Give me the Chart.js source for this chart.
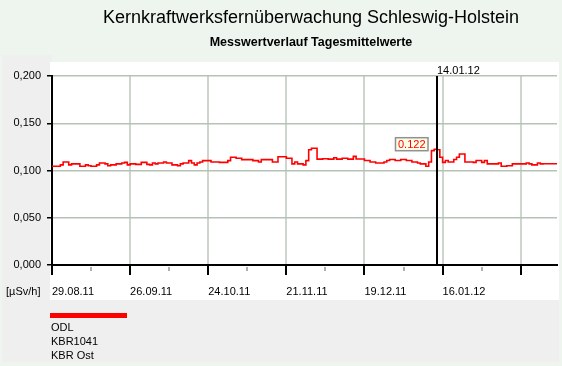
<!DOCTYPE html>
<html>
<head>
<meta charset="utf-8">
<script src="https://cdn.jsdelivr.net/npm/chart.js@4.4.1/dist/chart.umd.min.js"></script>
<style>
  html, body { margin: 0; padding: 0; background: #eef5ee; }
  #wrap { width: 562px; height: 366px; }
</style>
</head>
<body>
<div id="wrap"><canvas id="odlChart" width="562" height="366"></canvas></div>
<script>
const titleText = 'Kernkraftwerksfernüberwachung Schleswig-Holstein';
const subtitleText = 'Messwertverlauf Tagesmittelwerte';
const unitLabel = '[µSv/h]';
const legendLines = ['ODL', 'KBR1041', 'KBR Ost'];
const tickLabels = ['29.08.11', '26.09.11', '24.10.11', '21.11.11', '19.12.11', '16.01.12'];
const daysPerLabel = 28;
const lastDay = 181;
const markerDay = 138;
const markerLabel = '14.01.12';

// daily means from 29.08.11, one per day
const odlValues = [
  0.1045, 0.1045, 0.1045, 0.106, 0.109, 0.109, 0.106, 0.107, 0.107, 0.107,
  0.1045, 0.1045, 0.106, 0.105, 0.1045, 0.1045, 0.106, 0.108, 0.108, 0.107,
  0.105, 0.106, 0.106, 0.107, 0.107, 0.108, 0.1086, 0.106, 0.107, 0.107,
  0.1065, 0.1065, 0.1086, 0.1086, 0.1065, 0.106, 0.108, 0.107, 0.108, 0.108,
  0.109, 0.108, 0.108, 0.106, 0.106, 0.105, 0.107, 0.108, 0.108, 0.1105,
  0.108, 0.106, 0.108, 0.109, 0.1105, 0.1105, 0.1105, 0.109, 0.109, 0.109,
  0.1086, 0.1086, 0.1086, 0.1105, 0.114, 0.114, 0.113, 0.113, 0.1115, 0.1115,
  0.1115, 0.1115, 0.1105, 0.1105, 0.109, 0.1115, 0.1115, 0.1115, 0.1115, 0.109,
  0.109, 0.1145, 0.1145, 0.1145, 0.113, 0.113, 0.107, 0.109, 0.107, 0.107,
  0.106, 0.1105, 0.122, 0.1235, 0.1235, 0.112, 0.112, 0.1125, 0.1125, 0.112,
  0.112, 0.1135, 0.112, 0.112, 0.113, 0.113, 0.112, 0.112, 0.115, 0.1122,
  0.1122, 0.1122, 0.1106, 0.1106, 0.109, 0.109, 0.108, 0.108, 0.108, 0.109,
  0.1106, 0.1116, 0.1116, 0.1106, 0.1106, 0.1116, 0.1116, 0.1106, 0.1106, 0.109,
  0.109, 0.108, 0.107, 0.107, 0.1045, 0.109, 0.121, 0.1225, 0.122, 0.114,
  0.1086, 0.1106, 0.109, 0.109, 0.1116, 0.114, 0.1175, 0.1175, 0.109, 0.109,
  0.109, 0.1086, 0.1106, 0.1106, 0.1086, 0.1106, 0.107, 0.107, 0.107, 0.107,
  0.108, 0.1045, 0.1045, 0.105, 0.105, 0.107, 0.107, 0.107, 0.107, 0.107,
  0.108, 0.107, 0.106, 0.106, 0.108, 0.107, 0.1072, 0.1072, 0.1072, 0.1072,
  0.1072, 0.1072
];

const FONT = 'Arial, "Liberation Sans", sans-serif';
Chart.defaults.font.family = FONT;
Chart.defaults.font.size = 11;
Chart.defaults.color = '#000';

const isMajor = v => v % daysPerLabel === 0;

const panels = {
  id: 'panels',
  beforeDraw(chart) {
    const { ctx, chartArea: a, width, height } = chart;
    ctx.save();
    ctx.fillStyle = '#eef5ee';
    ctx.fillRect(0, 0, width, height);
    ctx.fillStyle = '#efefef';
    ctx.fillRect(2, a.top - 21, a.left - 2, height - 4 - (a.top - 21));
    ctx.fillRect(2, a.bottom + 35, width - 5, height - 4 - (a.bottom + 35));
    ctx.fillStyle = '#ffffff';
    ctx.fillRect(a.left - 2, a.top - 14, width - 3 - (a.left - 2), a.bottom + 35 - (a.top - 14));
    ctx.restore();
  }
};

const overlay = {
  id: 'overlay',
  afterDatasetsDraw(chart) {
    const { ctx, chartArea: a, scales: { x } } = chart;
    const mx = Math.round(x.getPixelForValue(markerDay));
    ctx.save();
    ctx.strokeStyle = '#000';
    ctx.lineWidth = 2;
    ctx.beginPath();
    ctx.moveTo(mx, a.top);
    ctx.lineTo(mx, a.bottom);
    ctx.stroke();
    ctx.restore();
  },
  afterDraw(chart) {
    const { ctx, chartArea: a, scales: { x, y } } = chart;
    ctx.save();

    // headings
    ctx.fillStyle = '#000';
    ctx.textAlign = 'center';
    ctx.textBaseline = 'middle';
    ctx.font = '18px ' + FONT;
    ctx.fillText(titleText, 311, 18);
    ctx.font = 'bold 12.5px ' + FONT;
    ctx.fillText(subtitleText, 311, 43);

    // minor ticks
    ctx.strokeStyle = '#b0b0b0';
    ctx.lineWidth = 2;
    x.ticks.forEach(t => {
      if (isMajor(t.value)) return;
      const px = Math.round(x.getPixelForValue(t.value));
      ctx.beginPath();
      ctx.moveTo(px, a.bottom + 2);
      ctx.lineTo(px, a.bottom + 6);
      ctx.stroke();
    });

    ctx.font = '11px ' + FONT;
    ctx.textAlign = 'left';
    ctx.fillStyle = '#000';
    ctx.fillText(unitLabel, 6, a.bottom + 27);

    // marker date
    const mx = Math.round(x.getPixelForValue(markerDay));
    ctx.fillText(markerLabel, mx, a.top - 5);

    // value box
    const val = odlValues[markerDay];
    const txt = val.toFixed(3);
    const py = y.getPixelForValue(val);
    const tw = ctx.measureText(txt).width;
    const bw = tw + 5, bh = 13;
    const bx = mx - 9 - bw, by = py + 1 - bh;
    ctx.fillStyle = '#fdfde6';
    ctx.fillRect(bx, by, bw, bh);
    ctx.strokeStyle = '#909090';
    ctx.lineWidth = 1.5;
    ctx.strokeRect(bx, by, bw, bh);
    ctx.fillStyle = '#ff0000';
    ctx.fillText(txt, bx + 2.5, by + bh / 2 + 0.5);

    // legend
    ctx.fillStyle = '#ff0000';
    ctx.fillRect(a.left - 2, a.bottom + 48, 77, 5);
    ctx.fillStyle = '#000';
    legendLines.forEach((line, i) => {
      ctx.fillText(line, a.left - 1, a.bottom + 63 + i * 14);
    });
    ctx.restore();
  }
};

new Chart(document.getElementById('odlChart'), {
  type: 'line',
  data: {
    datasets: [{
      label: legendLines.join(' '),
      data: odlValues.map((v, i) => ({ x: i, y: v })),
      borderColor: '#ff0000',
      borderWidth: 1.6,
      pointRadius: 0,
      stepped: true,
      fill: false
    }]
  },
  options: {
    responsive: false,
    animation: false,
    layout: { padding: { top: 76, right: 5, bottom: 0, left: 0 } },
    plugins: { legend: { display: false }, tooltip: { enabled: false }, title: { display: false } },
    scales: {
      x: {
        type: 'linear',
        min: 0,
        max: lastDay,
        afterFit: s => { s.height = 101; },
        border: { color: '#000', width: 2 },
        grid: {
          color: c => isMajor(c.tick.value) ? '#cdd6cd' : 'rgba(0,0,0,0)',
          lineWidth: 2,
          tickColor: c => isMajor(c.tick.value) ? '#000' : 'rgba(0,0,0,0)',
          tickLength: 10
        },
        ticks: {
          stepSize: 14,
          autoSkip: false,
          includeBounds: false,
          maxRotation: 0,
          align: 'start',
          padding: 10,
          callback: v => isMajor(v) ? (tickLabels[v / daysPerLabel] || '') : ''
        }
      },
      y: {
        min: 0,
        max: 0.2,
        afterFit: s => { s.width = 52; },
        border: { color: '#000', width: 2 },
        grid: {
          color: '#b6c2b6',
          lineWidth: 1.5,
          tickColor: '#000',
          tickLength: 5
        },
        ticks: {
          stepSize: 0.05,
          padding: 6,
          callback: v => v.toFixed(3).replace('.', ',')
        }
      }
    }
  },
  plugins: [panels, overlay]
});
</script>
</body>
</html>
